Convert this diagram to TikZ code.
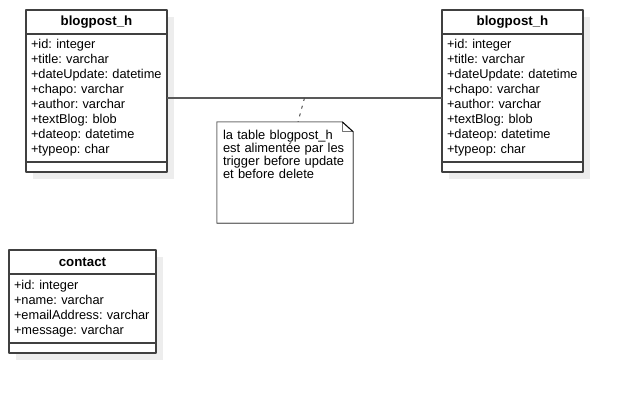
\documentclass[tikz,border=0pt]{standalone}
\usepackage{fontspec}
\setmainfont{Liberation Sans}
\usetikzlibrary{positioning,shadows}
\frenchspacing
\hyphenpenalty=10000

\begin{document}
\begin{tikzpicture}[x=1pt,y=-1pt,line join=round,
	font=\fontsize{12.8}{15}\selectfont,
	box/.style={draw=black!75,line width=1.1pt,fill=white,outer sep=0pt,
		drop shadow={shadow xshift=7pt,shadow yshift=-7pt,fill=black!7,opacity=1}},
	head/.style={box,minimum height=24pt,inner sep=0pt,font=\fontsize{13.3}{15}\selectfont\bfseries},
	attrs/.style={box,inner xsep=5pt,inner ysep=0pt,align=left},
	ops/.style={box,minimum height=10pt,inner sep=0pt},
	notefold/.style={draw=black!55,line width=1.1pt},
	link/.style={draw=black!65,line width=1.1pt}]
	\useasboundingbox (0,0) rectangle (622,392);
	% the two history tables
	\foreach \n/\x in {lhist/96.5,rhist/512.5}{
		\node[head,minimum width=141pt] (\n) at (\x,22) {blogpost\_h};
		\node[attrs,minimum width=141pt,text width=131pt,minimum height=128pt,below=0pt of \n] (\n attr)
		{+id: integer\\+title: varchar\\+dateUpdate: datetime\\+chapo: varchar\\+author: varchar\\+textBlog: blob\\+dateop: datetime\\+typeop: char};
		\node[ops,minimum width=141pt,below=0pt of \n attr] (\n ops) {};
	}
	% contact table
	\node[head,minimum width=147pt] (contact) at (82.5,262) {contact};
	\node[attrs,minimum width=147pt,text width=137pt,minimum height=69pt,below=0pt of contact] (contactattr)
	{+id: integer\\+name: varchar\\+emailAddress: varchar\\+message: varchar};
	\node[ops,minimum width=147pt,below=0pt of contactattr] (contactops) {};
	% association between both tables
	\path[link] (lhistattr.east) -- coordinate[midway] (mid) (rhistattr.west);
	% note with folded corner
	\node[minimum width=136pt,minimum height=101pt,inner sep=0pt] (note) at (285,172.5) {};
	\draw[notefold] (note.north west) -- ([xshift=-11pt]note.north east)
		-- ([yshift=-10pt]note.north east) -- (note.south east) -- (note.south west) -- cycle;
	\draw[notefold] ([xshift=-11pt]note.north east) |- ([yshift=-10pt]note.north east);
	\draw[line width=0.8pt] ([xshift=-11pt]note.north east) -- ([yshift=-10pt]note.north east);
	\node[anchor=north west,text width=124pt,align=left,inner xsep=6pt,inner ysep=8pt,
		font=\fontsize{12.9}{13.2}\selectfont] (notetext) at (note.north west)
	{la table blogpost\_h\\est alimentée par les\\trigger before update\\et before delete};
	\draw[black!70,line width=1pt,dash pattern=on 3pt off 5pt] (mid) -- ([xshift=13pt]note.north);
\end{tikzpicture}
\end{document}
